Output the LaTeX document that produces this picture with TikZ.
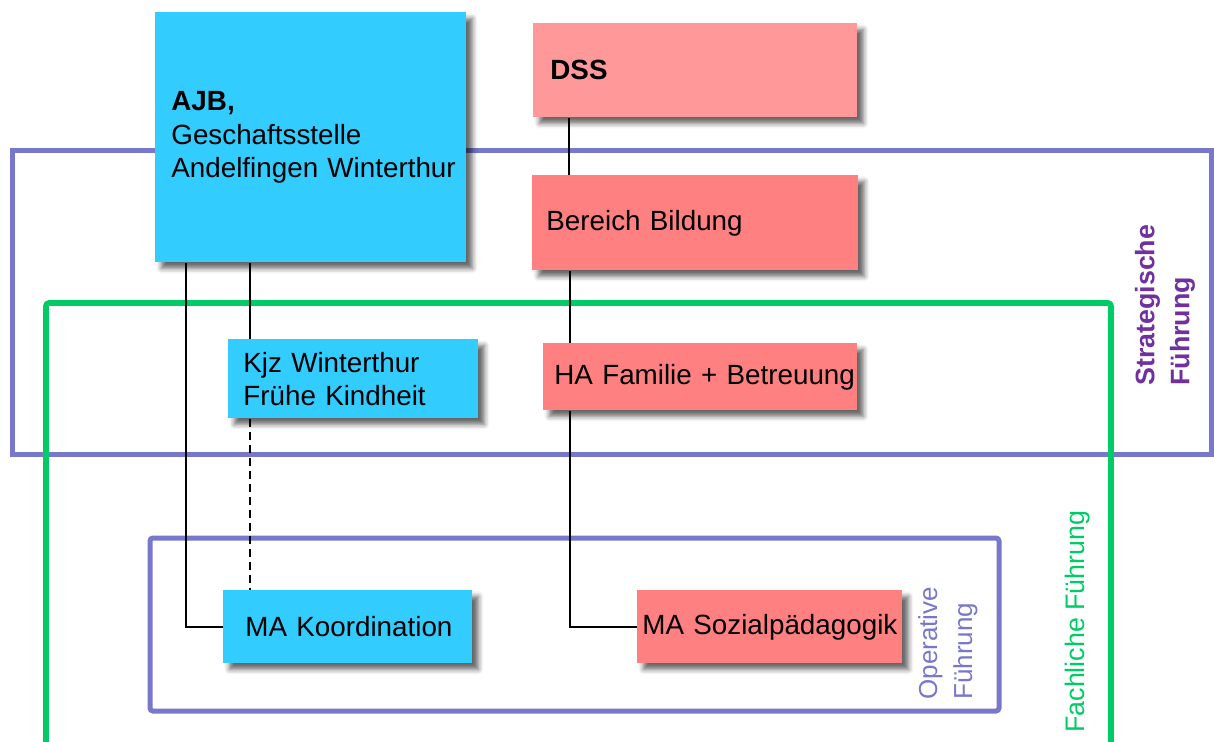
\documentclass[tikz,border=0pt]{standalone}
\usepackage{fontspec}
\setmainfont{Liberation Sans}
\usepackage{xcolor}
\usetikzlibrary{calc,positioning,shadows.blur}

\definecolor{ajbblau}{RGB}{51,204,255}
\definecolor{dssrosa}{RGB}{255,153,153}
\definecolor{bereichrot}{RGB}{255,128,128}
\definecolor{fuehrunglila}{RGB}{119,119,204}
\definecolor{fachgruen}{RGB}{0,204,102}
\definecolor{stratviolett}{RGB}{112,48,160}

\tikzset{
  orgbox/.style={anchor=north west, inner sep=0pt, align=left,
    font=\fontsize{13.9}{16.8}\selectfont,
    blur shadow={shadow xshift=3pt, shadow yshift=-3pt, shadow blur radius=2.5pt, shadow opacity=60}},
  textinset/.style={execute at begin node={\leftskip=#1}},
  rahmen/.style={line width=2.5pt, fuehrunglila},
  linie/.style={line width=0.8pt, black},
  seitentext/.style={rotate=90, anchor=west, inner sep=0pt, align=left}
}

\begin{document}
\begin{tikzpicture}[x=0.5pt,y=-0.5pt]
		\useasboundingbox (0,0) rectangle (1214,742);
		% Rahmen
		\draw[rahmen] (12,151) rectangle (1211,455);
		\draw[rahmen,rounded corners=1.5pt] (150,538) rectangle (999,711);
		\draw[line width=2.8pt,fachgruen,rounded corners=1.5pt] (46,760) |- (1111,303) -- (1111,760);
		% Stellen
		\node[orgbox,fill=ajbblau,text width=155.5pt,minimum height=125pt,textinset=8pt] (ajb) at (155,12) {\textbf{AJB,}\\Geschaftsstelle\\\mbox{Andelfingen Winterthur}};
		\node[orgbox,fill=dssrosa,text width=162pt,minimum height=47pt,textinset=8.5pt] (dss) at (533,23) {\textbf{DSS}};
		\node[orgbox,fill=bereichrot,text width=163pt,minimum height=47.5pt,textinset=7pt] (bildung) at (532,175) {Bereich Bildung};
		\node[orgbox,fill=ajbblau,text width=125pt,minimum height=39.5pt,textinset=7.5pt] (kjz) at (228,339) {Kjz Winterthur\\Frühe Kindheit};
		\node[orgbox,fill=bereichrot,text width=157pt,minimum height=33.5pt,textinset=5.5pt] (familie) at (543,343) {\mbox{HA Familie + Betreuung}};
		\node[orgbox,fill=ajbblau,text width=124.5pt,minimum height=36.5pt,textinset=11pt] (koord) at (223,590) {MA Koordination};
		\node[orgbox,fill=bereichrot,text width=132.5pt,minimum height=36.5pt,textinset=2.5pt] (sozial) at (637,590) {\mbox{MA Sozialpädagogik}};
		% Verbindungen
		\draw[linie] (569,0 |- dss.south) -- (569,0 |- bildung.north);
		\draw[linie] (570,0 |- bildung.south) -- (570,0 |- familie.north);
		\draw[linie] (570,0 |- familie.south) |- (sozial.west);
		\draw[linie] (186,0 |- ajb.south) |- (koord.west);
		\draw[linie] (250,0 |- ajb.south) -- (250,0 |- kjz.north);
		\draw[linie,dash pattern=on 4pt off 2.5pt] (250,0 |- kjz.south) -- (250,0 |- koord.north);
		% Beschriftungen
		\node[seitentext,text=stratviolett,font=\fontsize{13.4}{17.5}\selectfont\bfseries] (strat) at (1165,386) {Strategische\\Führung};
		\node[seitentext,text=fuehrunglila,font=\fontsize{13}{17.5}\selectfont] (oper) at (948,700) {Operative\\Führung};
		\node[seitentext,text=fachgruen,font=\fontsize{13.4}{17.5}\selectfont] (fach) at (1078,733) {Fachliche Führung};
	\end{tikzpicture}
\end{document}
